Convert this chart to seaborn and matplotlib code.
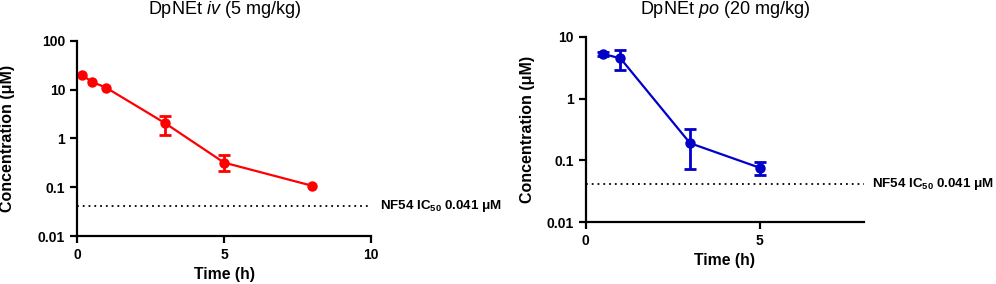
import matplotlib
matplotlib.use('Agg')
import matplotlib.pyplot as plt
import matplotlib.ticker as mticker
import numpy as np
import pandas as pd
import seaborn as sns

# iv dosing (5 mg/kg)
iv_time = [0.17, 0.5, 1, 3, 5, 8]
iv_conc = [20.0, 14.6, 10.9, 2.05, 0.32, 0.107]
iv_low = [20.0, 14.6, 10.9, 1.18, 0.22, 0.107]
iv_high = [20.0, 14.6, 10.9, 2.9, 0.45, 0.107]

# po dosing (20 mg/kg)
po_time = [0.5, 1, 3, 5]
po_conc = [5.3, 4.5, 0.19, 0.076]
po_low = [4.95, 2.9, 0.072, 0.058]
po_high = [5.6, 6.05, 0.32, 0.095]

ic50 = 0.041

sns.set_style('ticks', {'axes.edgecolor': 'black', 'text.color': 'black',
                        'axes.labelcolor': 'black', 'xtick.color': 'black',
                        'ytick.color': 'black'})
plt.rcParams['font.family'] = ['Liberation Sans', 'DejaVu Sans']
plt.rcParams['mathtext.fontset'] = 'custom'
plt.rcParams['mathtext.rm'] = 'Liberation Sans'
plt.rcParams['mathtext.bf'] = 'Liberation Sans:bold'
plt.rcParams['mathtext.it'] = 'Liberation Sans:italic'


def draw_panel(ax, t, c, lo, hi, color, title, title_y, xlim, xticks, ylim, ylab_x):
    df = pd.DataFrame({'t': t, 'c': c, 'lo': lo, 'hi': hi})
    sns.lineplot(data=df, x='t', y='c', ax=ax, color=color, lw=1.6,
                 marker='o', markersize=7.5, markeredgewidth=0)
    # only points that have a spread get error bars
    e = df[df['hi'] > df['lo']]
    ax.errorbar(e['t'], e['c'], yerr=[e['c'] - e['lo'], e['hi'] - e['c']],
                fmt='none', ecolor=color, elinewidth=2, capsize=4, capthick=2)
    ax.set_yscale('log')
    ax.set_xlim(*xlim)
    ax.set_ylim(*ylim)
    ax.set_xticks(xticks)
    ax.yaxis.set_major_locator(mticker.LogLocator(base=10, numticks=10))
    ax.yaxis.set_minor_locator(mticker.NullLocator())
    ax.yaxis.set_major_formatter(mticker.FuncFormatter(lambda v, p: f'{v:g}'))
    ax.axhline(ic50, color='black', ls=(0, (1, 2.2)), lw=1.3, clip_on=False)
    ax.text(1.03, ic50, r'NF54 IC$_{\mathbf{50}}$ 0.041 μM', transform=ax.get_yaxis_transform(),
            va='center', ha='left', fontsize=9.6, fontweight='bold')
    ax.text(0.5, title_y, title, transform=ax.transAxes, ha='center', va='center',
            fontsize=13)
    ax.set_xlabel('Time (h)', fontsize=11.3, fontweight='bold')
    ax.set_ylabel('Concentration (μM)', fontsize=11.5, fontweight='bold')
    ax.yaxis.set_label_coords(ylab_x, 0.5)
    for s in ['left', 'bottom']:
        ax.spines[s].set_linewidth(1.6)
    sns.despine(ax=ax)
    ax.tick_params(width=1.6, length=5, labelsize=10)
    for lab in ax.get_xticklabels() + ax.get_yticklabels():
        lab.set_fontweight('bold')


fig = plt.figure(figsize=(9.96, 2.84), dpi=100)
ax1 = fig.add_axes([0.0773, 0.169, 0.2952, 0.687])
ax2 = fig.add_axes([0.588, 0.218, 0.2795, 0.652])

draw_panel(ax1, iv_time, iv_conc, iv_low, iv_high, '#ff0000',
           r'DpNEt $\it{iv}$ (5 mg/kg)', 1.159, (0, 10), [0, 5, 10], (0.01, 100), -0.211)
draw_panel(ax2, po_time, po_conc, po_low, po_high, '#0000c8',
           r'DpNEt $\it{po}$ (20 mg/kg)', 1.146, (0, 8), [0, 5], (0.01, 10), -0.183)

fig.savefig('out.png', dpi=100)
